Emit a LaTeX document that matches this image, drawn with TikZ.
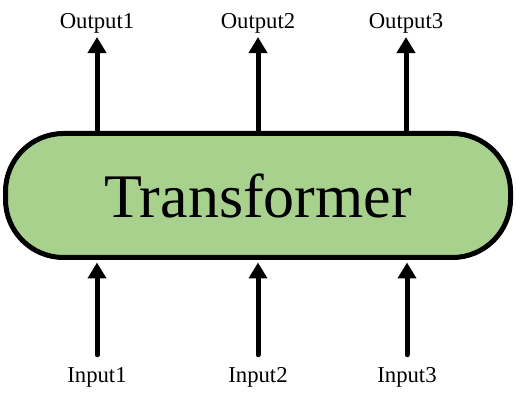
\documentclass[tikz,border=0pt]{standalone}
\usepackage{fontspec}
\setmainfont{Liberation Serif}
\usetikzlibrary{arrows.meta, positioning}

\tikzset{
	block/.style={draw=black, line width=5pt, fill=tfgreen, rounded corners=58pt,
		minimum width=505pt, minimum height=124pt, inner sep=0pt},
	lbl/.style={inner sep=0pt, anchor=base, font=\fontsize{22.7}{26}\selectfont},
	flow/.style={line width=5pt, line cap=round, -{Triangle[width=18pt,length=16pt]}}
}
\definecolor{tfgreen}{HTML}{A9D18E}

\begin{document}
\begin{tikzpicture}[x=1pt, y=1pt]
	\useasboundingbox (0,0) rectangle (516,403);
	\node[block] (tf) at (258,207.5) {\fontsize{62}{70}\selectfont Transformer};
	\node[lbl] (out1) at (97,374) {Output1};
	\node[lbl] (out2) at (258,374) {Output2};
	\node[lbl] (out3) at (406,374) {Output3};
	\node[lbl] (in1) at (97,20) {Input1};
	\node[lbl] (in2) at (258,20) {Input2};
	\node[lbl] (in3) at (407,20) {Input3};
	\draw[flow, shorten >=3pt] (tf.north -| out1) -- (out1);
	\draw[flow, shorten >=3pt] (tf.north -| out2) -- (out2);
	\draw[flow, shorten >=3pt] (tf.north -| out3) -- (out3);
	\draw[flow, shorten <=13pt, shorten >=2.5pt] (in1) -- (tf.south -| in1);
	\draw[flow, shorten <=13pt, shorten >=2.5pt] (in2) -- (tf.south -| in2);
	\draw[flow, shorten <=13pt, shorten >=2.5pt] (in3) -- (tf.south -| in3);
\end{tikzpicture}
\end{document}
